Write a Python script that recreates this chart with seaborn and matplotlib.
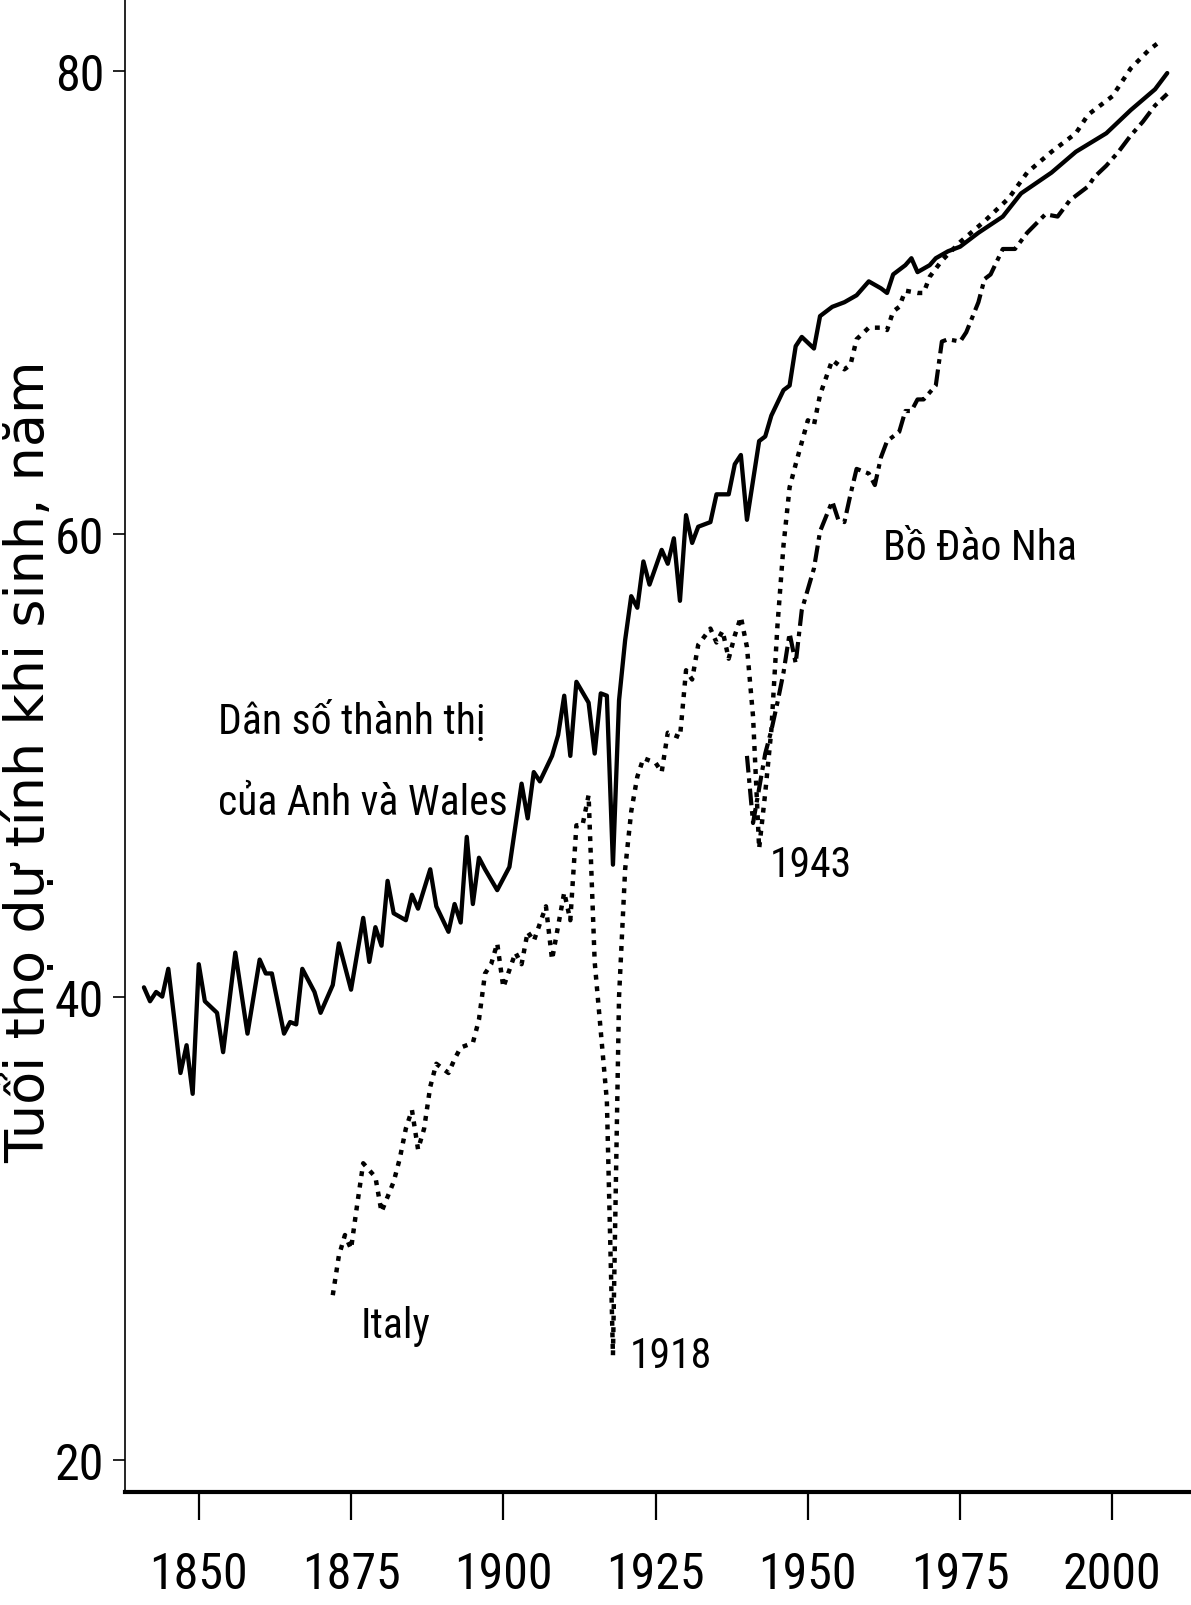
import numpy as np
import pandas as pd
import matplotlib
matplotlib.use("Agg")
import matplotlib.pyplot as plt
from matplotlib import font_manager as fm
import seaborn as sns

# England & Wales urban population (solid)
eng_years = [1841, 1842, 1843, 1844, 1845, 1846, 1847, 1848, 1849, 1850,
             1851, 1853, 1854, 1856, 1858, 1860, 1861, 1862, 1864, 1865,
             1866, 1867, 1869, 1870, 1872, 1873, 1875, 1877, 1878, 1879,
             1880, 1881, 1882, 1884, 1885, 1886, 1888, 1889, 1891, 1892,
             1893, 1894, 1895, 1896, 1897, 1899, 1901, 1903, 1904, 1905,
             1906, 1908, 1909, 1910, 1911, 1912, 1914, 1915, 1916, 1917,
             1918, 1919, 1920, 1921, 1922, 1923, 1924, 1926, 1927, 1928,
             1929, 1930, 1931, 1932, 1934, 1935, 1937, 1938, 1939, 1940,
             1942, 1943, 1944, 1946, 1947, 1948, 1949, 1951, 1952, 1954,
             1956, 1958, 1960, 1962, 1963, 1964, 1966, 1967, 1968, 1970,
             1971, 1973, 1975, 1978, 1982, 1985, 1990, 1994, 1999, 2003,
             2007, 2009]
eng_vals = [40.4, 39.8, 40.2, 40.0, 41.2, 39.0, 36.7, 37.9, 35.8, 41.4,
            39.8, 39.3, 37.6, 41.9, 38.4, 41.6, 41.0, 41.0, 38.4, 38.9,
            38.8, 41.2, 40.2, 39.3, 40.5, 42.3, 40.3, 43.4, 41.5, 43.0,
            42.2, 45.0, 43.6, 43.3, 44.4, 43.8, 45.5, 43.9, 42.8, 44.0,
            43.2, 46.9, 44.0, 46.0, 45.5, 44.6, 45.6, 49.2, 47.7, 49.7,
            49.3, 50.4, 51.3, 53.0, 50.4, 53.6, 52.7, 50.5, 53.1, 53.0,
            45.7, 52.8, 55.4, 57.3, 56.8, 58.8, 57.8, 59.3, 58.7, 59.8,
            57.1, 60.8, 59.6, 60.3, 60.5, 61.7, 61.7, 63.0, 63.4, 60.6,
            64.0, 64.2, 65.1, 66.2, 66.4, 68.1, 68.5, 68.0, 69.4, 69.8,
            70.0, 70.3, 70.9, 70.6, 70.4, 71.2, 71.6, 71.9, 71.3, 71.6,
            71.9, 72.2, 72.4, 73.0, 73.7, 74.7, 75.6, 76.5, 77.3, 78.3,
            79.2, 79.9]

# Italy (dotted)
ita_years = [1872, 1873, 1874, 1875, 1876, 1877, 1879, 1880, 1882, 1883,
             1884, 1885, 1886, 1887, 1888, 1889, 1891, 1892, 1893, 1895,
             1896, 1897, 1898, 1899, 1900, 1902, 1903, 1904, 1905, 1907,
             1908, 1910, 1911, 1912, 1913, 1914, 1915, 1916, 1917, 1918,
             1919, 1920, 1921, 1922, 1923, 1925, 1926, 1927, 1929, 1930,
             1931, 1932, 1934, 1935, 1936, 1937, 1938, 1939, 1940, 1941,
             1942, 1943, 1944, 1945, 1946, 1947, 1948, 1950, 1951, 1952,
             1954, 1956, 1957, 1958, 1960, 1962, 1963, 1964, 1965, 1966,
             1968, 1969, 1970, 1972, 1975, 1979, 1983, 1986, 1990, 1994,
             1996, 2000, 2003, 2006, 2008]
ita_vals = [27.1, 28.8, 29.7, 29.1, 31.0, 32.8, 32.2, 30.7, 32.0, 33.0,
            34.3, 35.1, 33.4, 34.3, 36.1, 37.1, 36.7, 37.3, 37.8, 38.0,
            39.0, 41.0, 41.4, 42.3, 40.4, 41.9, 41.4, 42.8, 42.4, 43.9,
            41.6, 44.5, 43.3, 47.4, 47.4, 48.7, 41.5, 38.5, 35.5, 24.5,
            40.0, 45.5, 48.0, 49.5, 50.3, 50.1, 49.7, 51.4, 51.2, 54.1,
            53.7, 55.2, 55.9, 55.3, 55.8, 54.6, 55.6, 56.4, 55.1, 52.1,
            46.4, 48.8, 51.5, 56.0, 59.5, 62.0, 63.0, 64.9, 64.7, 66.0,
            67.5, 67.1, 67.3, 68.4, 68.9, 68.9, 68.8, 69.6, 69.8, 70.5,
            70.4, 70.4, 71.1, 71.8, 72.6, 73.5, 74.5, 75.6, 76.5, 77.3,
            78.1, 78.9, 80.1, 80.9, 81.3]

# Portugal (dash-dot)
por_years = [1940, 1941, 1942, 1943, 1944, 1945, 1946, 1947, 1948, 1949,
             1950, 1951, 1952, 1954, 1955, 1956, 1957, 1958, 1960, 1961,
             1962, 1963, 1965, 1966, 1967, 1968, 1969, 1971, 1972, 1973,
             1975, 1976, 1978, 1979, 1980, 1982, 1984, 1986, 1989, 1991,
             1993, 1996, 1997, 1999, 2001, 2003, 2005, 2007, 2009]
por_vals = [50.4, 47.5, 49.0, 50.5, 51.5, 52.7, 54.0, 55.7, 54.4, 56.7,
            57.6, 58.5, 60.1, 61.4, 60.6, 60.5, 61.7, 62.8, 62.6, 62.1,
            63.3, 64.0, 64.4, 65.3, 65.3, 65.8, 65.8, 66.4, 68.3, 68.4,
            68.3, 68.7, 70.0, 71.0, 71.2, 72.3, 72.3, 73.0, 73.8, 73.7,
            74.4, 75.0, 75.4, 75.9, 76.5, 77.2, 77.8, 78.5, 79.0]

x_ticks = [1850, 1875, 1900, 1925, 1950, 1975, 2000]
y_ticks = [20, 40, 60, 80]

sns.set_style("ticks")
installed = {f.name for f in fm.fontManager.ttflist}
narrow_name = "DejaVu Sans"
for cand in ["Roboto Condensed", "Liberation Sans Narrow", "Open Sans Condensed",
             "Noto Sans Condensed", "Liberation Sans", "Roboto"]:
    if cand in installed:
        narrow_name = cand
        break
plt.rcParams["font.family"] = [narrow_name, "DejaVu Sans"]

fig = plt.figure(figsize=(11.91, 16.06), dpi=100)
ax = fig.add_axes([0.105, 0.0704, 0.895, 0.9296])

sns.lineplot(x=eng_years, y=eng_vals, ax=ax, color="black", lw=3.1,
             linestyle="-")
sns.lineplot(x=ita_years, y=ita_vals, ax=ax, color="black", lw=3.2,
             linestyle=(0, (1.1, 1.5)))
sns.lineplot(x=por_years, y=por_vals, ax=ax, color="black", lw=3.0,
             linestyle=(0, (4, 1.4, 1.1, 1.4)))

ax.set_xlim(1837.9, 2012.9)
ax.set_ylim(18.6, 83.1)
ax.set_xticks(x_ticks)
ax.set_yticks(y_ticks)
ax.tick_params(axis="x", length=20, width=1.6, labelsize=36, pad=22,
               colors="black")
ax.tick_params(axis="y", length=9, width=1.2, labelsize=36, pad=6,
               colors="black")
sns.despine(ax=ax)
ax.spines["left"].set_linewidth(1.2)
ax.spines["bottom"].set_linewidth(3)
ax.spines["left"].set_color("black")
ax.spines["bottom"].set_color("black")

ax.set_ylabel("Tuổi thọ dự tính khi sinh, năm", fontsize=39,
              family=["DejaVu Sans"], color="black")
ax.yaxis.set_label_coords(-0.066, 0.49)

txt = dict(fontsize=30, color="black", ha="left", va="center")
ax.text(1853.2, 51.9, "Dân số thành thị", **txt)
ax.text(1853.2, 48.4, "của Anh và Wales", **txt)
ax.text(1876.5, 25.8, "Italy", **txt)
ax.text(1920.8, 24.5, "1918", **txt)
ax.text(1943.8, 45.7, "1943", **txt)
ax.text(1962.3, 59.4, "Bồ Đào Nha", **txt)

fig.savefig("out.png", dpi=100)
